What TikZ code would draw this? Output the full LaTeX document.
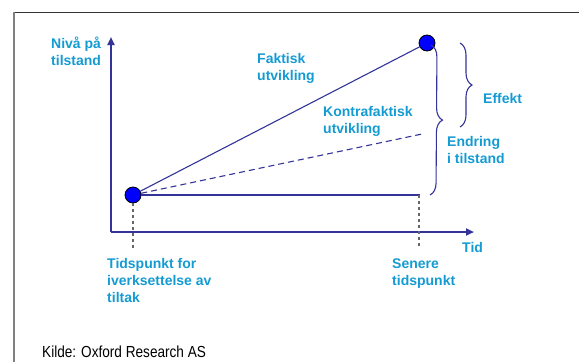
\documentclass[tikz,border=0pt]{standalone}
\usepackage{fontspec}
\setmainfont{Liberation Sans}
\usetikzlibrary{arrows.meta,decorations.pathreplacing}
\definecolor{lbl}{RGB}{20,155,210}
\definecolor{navy}{RGB}{51,51,153}
\definecolor{dotblue}{RGB}{0,0,255}
\begin{document}
\begin{tikzpicture}[x=1pt,y=-1pt,
  lab/.style={anchor=base west,inner sep=0pt,align=left,text=lbl,
    font=\fontsize{14}{17}\selectfont\bfseries},
  axis/.style={draw=navy,line width=2pt,-{Triangle[length=8pt,width=7pt]}},
  trend/.style={draw=navy,line width=1.1pt},
  guide/.style={draw=gray!80!black,line width=1.2pt,dash pattern=on 3pt off 3pt},
  dot/.style={circle,draw=black,line width=0.8pt,fill=dotblue,minimum size=16pt,inner sep=0pt},
  bracedeco/.style={draw=navy,line width=1.1pt,decorate,decoration={brace,amplitude=12pt,aspect=0.5}}]
\useasboundingbox (0,0) rectangle (579,362);
% frame
\draw[line width=1pt,black!80] (14,12) -- (579,12);
\draw[line width=1.6pt,black!50] (14,12) -- (14,362);
% coordinates
\coordinate (O) at (111,232);
\coordinate (ytip) at (111,37);
\coordinate (xtip) at (474,232);
\coordinate (C) at (422,134);
\coordinate (D) at (420,195);
\coordinate (E) at (419,248);
\coordinate (F) at (133,248);
\coordinate (S) at (419,195);
% axes
\draw[axis] (O) -- (ytip);
\draw[axis] (O) -- (xtip);
% dots
\node[dot] (A) at (133,195) {};
\node[dot] (B) at (427,43) {};
% lines
\draw[trend] (A) -- (B);
\draw[trend,dash pattern=on 6pt off 4pt] (A) -- (C);
\draw[trend] (A.east) -- (D);
\draw[guide] (A) -- (F);
\draw[guide] (S) -- (E);
% braces
\coordinate (b1t) at (431,45);
\coordinate (b1b) at (430,195);
\coordinate (b2t) at (460,43);
\coordinate (b2b) at (460,127);
\draw[bracedeco] (b1t) -- (b1b);
\draw[bracedeco] (b2t) -- (b2b);
% labels (anchor at baseline of last line)
\node[lab] (niva) at (51,65) {Nivå på\\tilstand};
\node[lab] (fakt) at (257,80) {Faktisk\\utvikling};
\node[lab] (kontra) at (323,133) {Kontrafaktisk\\utvikling};
\node[lab] (eff) at (483,103) {Effekt};
\node[lab] (endr) at (447,163) {Endring\\i tilstand};
\node[lab] (tidsp) at (107,302) {Tidspunkt for\\iverksettelse av\\tiltak};
\node[lab] (tid) at (462,252) {Tid};
\node[lab] (sen) at (392,285) {Senere\\tidspunkt};
\node[anchor=base west,inner sep=0pt,font=\fontsize{16}{19}\selectfont] (kilde) at (42,357) {\scalebox{0.85}[1]{Kilde: Oxford Research AS}};
\end{tikzpicture}
\end{document}
